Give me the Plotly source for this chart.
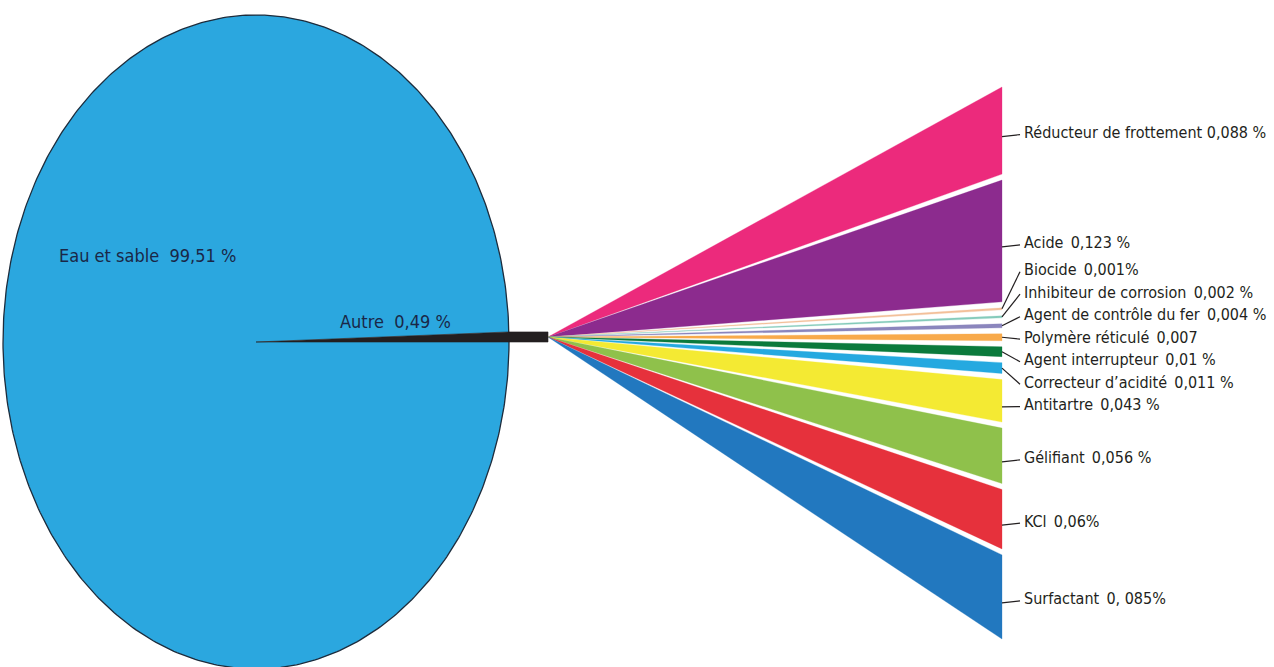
import numpy as np
import plotly.graph_objects as go

# ---------------- data ----------------
pie_labels = ["Eau et sable", "Autre"]
pie_values = [99.51, 0.49]
pie_value_text = ["99,51 %", "0,49 %"]

categories = ["Réducteur de frottement", "Acide", "Biocide", "Inhibiteur de corrosion",
              "Agent de contrôle du fer", "Polymère réticulé", "Agent interrupteur",
              "Correcteur d’acidité", "Antitartre", "Gélifiant", "KCl", "Surfactant"]
values = [0.088, 0.123, 0.001, 0.002, 0.004, 0.007, 0.010, 0.011, 0.043, 0.056, 0.060, 0.085]
value_text = ["0,088 %", "0,123 %", "0,001%", "0,002 %", "0,004 %", "0,007",
              "0,01 %", "0,011 %", "0,043 %", "0,056 %", "0,06%", "0, 085%"]
colors = ["#ec2a7c", "#8c2b8e", "#f3c09a", "#86cbbb", "#8b86bd", "#f8aa4b",
          "#0b7a3c", "#25a9e0", "#f4ea33", "#8fc14b", "#e6313c", "#2278bf"]

# ---------------- geometry / style ----------------
W, H = 1274, 667
CX, CY, RX, RY = 256, 342, 253, 327
PIE_BLUE = "#2ba7df"
DARK = "#231f20"
FONT = "DejaVu Sans Condensed, Liberation Sans Narrow, sans-serif"
FS = 16
PIE_FS = 18
BAR_END = 548
FAN_X = 1002
FAN_TOP, FAN_BOT = 87, 638
GAP = 6
MIN_W = 2
LABEL_X = 1022
LABEL_STEP = 22.5
CLUSTER_SHIFT = -7

fig = go.Figure()

# ---- elliptical pie ----
theta = 2 * np.pi * pie_values[1] / sum(pie_values)
t = np.linspace(theta, 2 * np.pi, 400)
ex = np.concatenate([[CX], CX + RX * np.cos(t), [CX]])
ey = np.concatenate([[CY], CY - RY * np.sin(t), [CY]])
fig.add_trace(go.Scatter(x=ex, y=ey, fill="toself", fillcolor=PIE_BLUE, mode="lines",
                         line=dict(width=0), name=pie_labels[0], hoverinfo="name"))
tt = np.linspace(0, 2 * np.pi, 500)
fig.add_trace(go.Scatter(x=CX + RX * np.cos(tt), y=CY - RY * np.sin(tt), mode="lines",
                         line=dict(color="#1d2c3c", width=1.3), hoverinfo="skip",
                         showlegend=False))

# "Autre" slice extended as a bar towards the fan
h = RY * np.sin(theta)
ax_ = [CX, CX + RX, BAR_END, BAR_END, CX + RX * np.cos(theta), CX]
ay_ = [CY, CY, CY, CY - h, CY - h, CY]
fig.add_trace(go.Scatter(x=ax_, y=ay_, fill="toself", fillcolor=DARK, mode="lines",
                         line=dict(width=0.6, color=DARK), name=pie_labels[1], hoverinfo="name"))
apex_x, apex_y = BAR_END, CY - h / 2

# ---- fan wedges ----
n = len(values)
scale = (FAN_BOT - FAN_TOP - GAP * (n - 1)) / sum(values)
tops, bots = [], []
y = FAN_TOP
for v in values:
    w = max(v * scale, MIN_W)
    tops.append(y)
    bots.append(y + w)
    y += w + GAP
mids = [(a + b) / 2 for a, b in zip(tops, bots)]

for i in range(n):
    fig.add_trace(go.Scatter(
        x=[apex_x, FAN_X, FAN_X, apex_x], y=[apex_y, tops[i], bots[i], apex_y],
        fill="toself", fillcolor=colors[i], mode="lines",
        line=dict(width=0.3, color=colors[i]), name=categories[i], hoverinfo="name"))

# ---- label placement: spread overlapping labels around their wedge middles ----
clusters = [[i] for i in range(n)]
def place(cl):
    c = np.mean([mids[i] for i in cl])
    m = len(cl)
    return [c + (k - (m - 1) / 2) * LABEL_STEP for k in range(m)]
changed = True
while changed:
    changed = False
    for j in range(len(clusters) - 1):
        a, b = place(clusters[j]), place(clusters[j + 1])
        if b[0] - a[-1] < LABEL_STEP:
            clusters[j] = clusters[j] + clusters[j + 1]
            del clusters[j + 1]
            changed = True
            break
label_y = []
for cl in clusters:
    shift = CLUSTER_SHIFT if len(cl) > 1 else 2
    label_y += [p + shift for p in place(cl)]

for i in range(n):
    fig.add_trace(go.Scatter(x=[FAN_X, LABEL_X - 2], y=[mids[i] + (6 if len(categories[i]) > 0 and values[i] > 0.03 else 0), label_y[i] + 2],
                             mode="lines", line=dict(color=DARK, width=1.2),
                             hoverinfo="skip", showlegend=False))
    sep = " " if i == 0 else "\u2002"
    fig.add_annotation(x=LABEL_X, y=label_y[i], text=categories[i] + sep + value_text[i],
                       xanchor="left", yanchor="middle", showarrow=False,
                       font=dict(family=FONT, size=FS, color=DARK))

# pie labels
fig.add_annotation(x=57, y=255, text=pie_labels[0] + "\u00a0\u00a0" + pie_value_text[0],
                   xanchor="left", yanchor="middle", showarrow=False,
                   font=dict(family=FONT, size=PIE_FS, color="#1a2747"))
fig.add_annotation(x=338, y=321, text=pie_labels[1] + "\u00a0\u00a0" + pie_value_text[1],
                   xanchor="left", yanchor="middle", showarrow=False,
                   font=dict(family=FONT, size=PIE_FS, color="#1a2747"))

fig.update_layout(
    width=W, height=H, margin=dict(l=0, r=0, t=0, b=0),
    paper_bgcolor="white", plot_bgcolor="white", showlegend=False,
    xaxis=dict(range=[0, W], visible=False, fixedrange=True),
    yaxis=dict(range=[H, 0], visible=False, fixedrange=True),
)
fig.write_html("out.html")
